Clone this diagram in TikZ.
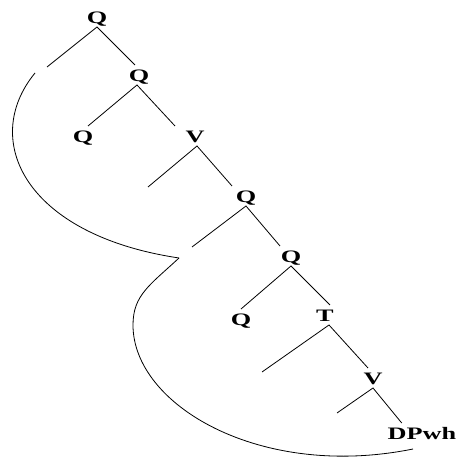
\documentclass[tikz,border=0pt]{standalone}
\usepackage{fontspec}
\usepackage{graphicx}
\setmainfont{Liberation Serif}
\newcommand\treelbl[1]{\scalebox{1.5}[1]{#1}}
\tikzset{
  lab/.style={inner sep=0pt, outer xsep=0pt, outer ysep=3pt, text height=14pt, text depth=0pt,
    anchor=base, font=\fontsize{17.5}{17.5}\selectfont\bfseries},
  branch/.style={line width=0.8pt},
  curve/.style={line width=0.8pt}
}
\begin{document}
\begin{tikzpicture}[x=1pt,y=-1pt]
\useasboundingbox (0,0) rectangle (459,457);
% labels
\node[lab] (Q1) at (97,24) {\treelbl{Q}};
\node[lab] (Q2) at (139,82) {\treelbl{Q}};
\node[lab] (Q3) at (83,143) {\treelbl{Q}};
\node[lab] (V1) at (195,143) {\treelbl{V}};
\node[lab] (Q4) at (246,203) {\treelbl{Q}};
\node[lab] (Q5) at (291,263) {\treelbl{Q}};
\node[lab] (Q6) at (241,326) {\treelbl{Q}};
\node[lab] (T) at (325,322) {\treelbl{T}};
\node[lab] (V2) at (373,385) {\treelbl{V}};
\node[lab] (DP) at (422,440) {\treelbl{DPwh}};
% free ends
\coordinate (e1) at (47,67);
\coordinate (e2) at (148,187);
\coordinate (e3) at (192,247);
\coordinate (e4) at (262,372);
\coordinate (e5) at (337,413);
% branches
\draw[branch] (e1) -- (Q1.south) -- ([xshift=-4pt]Q2.north);
\draw[branch] ([xshift=5pt]Q3.north) -- ([xshift=-2pt]Q2.south) -- ([xshift=-20pt]V1.north);
\draw[branch] (e2) -- ([xshift=2pt]V1.south) -- ([xshift=-14pt]Q4.north);
\draw[branch] (e3) -- (Q4.south) -- ([xshift=-11pt]Q5.north);
\draw[branch] (Q6.north) -- (Q5.south) -- ([xshift=5pt]T.north);
\draw[branch] (e4) -- ([xshift=4pt]T.south) -- ([xshift=-5pt]V2.north);
\draw[branch] (e5) -- (V2.south) -- ([xshift=14pt]DP.north west);
% movement curves
\coordinate (c0) at (35,73);
\coordinate (cj) at (179,258);
\coordinate (cl) at (133,325);
\coordinate (ce) at (413,449);
\draw[curve] (c0) .. controls (-20,140) and (25,235) .. (cj);
\draw[curve] (cj) .. controls (150,285) and (133,295) .. (cl)
  .. controls (133,405) and (260,480) .. (ce);
\end{tikzpicture}
\end{document}
